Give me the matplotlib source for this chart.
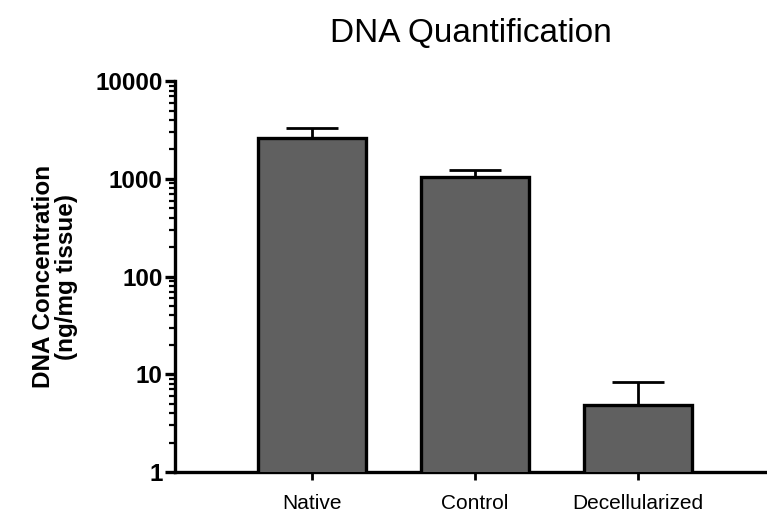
import numpy as np
import matplotlib.pyplot as plt

plt.rcParams['font.family'] = ['Liberation Sans', 'DejaVu Sans']

groups = ["Native", "Control", "Decellularized"]
means = [2650, 1050, 4.8]
err_up = [650, 170, 3.6]

fig = plt.figure(figsize=(7.67, 5.17), dpi=100)
ax = fig.add_axes([0.228, 0.087, 0.772, 0.756])

x = np.arange(len(groups))
ax.bar(x, means, width=0.66, color="#606060", edgecolor="black", linewidth=2.4, zorder=3)
ax.errorbar(x, means, yerr=[np.zeros(len(groups)), err_up], fmt="none",
            ecolor="black", elinewidth=2, capsize=19, capthick=2, zorder=2)

ax.set_yscale("log")
ax.set_ylim(1, 10000)
ax.set_xlim(-0.84, 2.79)
ax.set_yticks([1, 10, 100, 1000, 10000])
ax.set_yticklabels(["1", "10", "100", "1000", "10000"], fontweight="bold", fontsize=17.5)
ax.set_xticks(x)
ax.set_xticklabels(groups, fontsize=15)

for s in ["top", "right"]:
    ax.spines[s].set_visible(False)
for s in ["left", "bottom"]:
    ax.spines[s].set_linewidth(2.4)

ax.tick_params(axis="y", which="major", length=7, width=2.4, pad=2)
ax.tick_params(axis="y", which="minor", length=4, width=1.6)
ax.tick_params(axis="x", which="major", length=6, width=2, pad=10)

ax.set_ylabel("DNA Concentration\n(ng/mg tissue)", fontsize=17.5, fontweight="bold",
              labelpad=12, linespacing=1.0)
ax.set_title("DNA Quantification", fontsize=24, pad=28)

fig.savefig("out.png", dpi=100)
